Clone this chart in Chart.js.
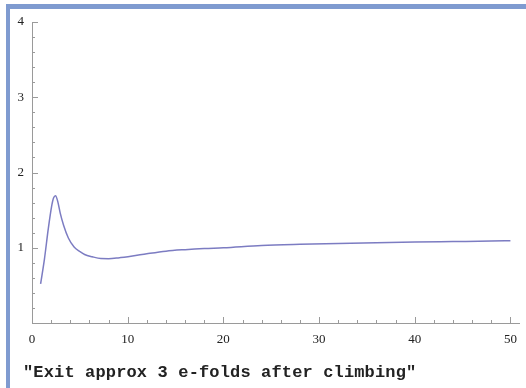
<!DOCTYPE html>
<html>
<head>
<meta charset="utf-8">
<script src="https://cdn.jsdelivr.net/npm/chart.js@4/dist/chart.umd.min.js"></script>
<style>
  html, body { margin: 0; padding: 0; background: #fff; }
  body { width: 526px; height: 388px; position: relative; overflow: hidden; }
  #frame {
    position: absolute; left: 6px; top: 4px; width: 516px; height: 379px;
    border-top: 5px solid #7f9bd0; border-left: 4px solid #7f9bd0;
    border-bottom: 2px solid #b9c5e6;
  }
  #wrap { position: absolute; left: 0; top: 0; width: 526px; height: 388px; }
  #caption {
    position: absolute; left: 23px; top: 363px; line-height: 17px;
    font: bold 17px "Liberation Mono", "Courier New", monospace; color: #222;
    letter-spacing: 0.15px; white-space: pre;
  }
</style>
</head>
<body>
<div id="frame"></div>
<div id="wrap"><canvas id="efoldChart"></canvas></div>
<div id="caption">"Exit approx 3 e-folds after climbing"</div>
<script>
// values
const xValues = [0.9, 1.3, 1.7, 2.05, 2.25, 2.46, 2.7, 2.95, 3.3, 3.8, 4.4, 5.0, 5.5, 6.3, 7.2, 8.0, 9.0, 10.5, 12, 14, 16, 18, 20, 24, 28, 32, 36, 40, 44, 48, 50];
const yValues = [0.52, 0.85, 1.25, 1.55, 1.66, 1.69, 1.61, 1.46, 1.30, 1.13, 1.01, 0.95, 0.91, 0.88, 0.857, 0.855, 0.865, 0.89, 0.92, 0.955, 0.975, 0.99, 1.0, 1.03, 1.045, 1.055, 1.065, 1.075, 1.082, 1.089, 1.093];
const xTickLabels = [0, 10, 20, 30, 40, 50];
const yTickLabels = [1, 2, 3, 4];

// Mathematica-style ticks drawn inside the frame, with 4 minor ticks between majors
const insideTicks = {
    id: 'insideTicks',
    afterDraw(chart) {
        const ctx = chart.ctx;
        const xs = chart.scales.x, ys = chart.scales.y;
        ctx.save();
        ctx.strokeStyle = '#9a9a9a';
        ctx.lineWidth = 1;
        ctx.beginPath();
        for (let v = 0; v <= xs.max + 1e-9; v += 2) {
            const px = Math.round(xs.getPixelForValue(v)) + 0.5;
            const len = (v % 10 === 0) ? 6 : 3;
            ctx.moveTo(px, ys.bottom);
            ctx.lineTo(px, ys.bottom - len);
        }
        for (let i = 0; i <= 20; i++) {
            const v = i * 0.2;
            const py = Math.round(ys.getPixelForValue(v)) + 0.5;
            const len = (i % 5 === 0) ? 6 : 3;
            ctx.moveTo(xs.left, py);
            ctx.lineTo(xs.left + len, py);
        }
        ctx.stroke();
        ctx.restore();
    }
};

new Chart(document.getElementById('efoldChart'), {
    type: 'line',
    data: {
        datasets: [{
            data: xValues.map((x, i) => ({ x: x, y: yValues[i] })),
            borderColor: '#7c7cc2',
            borderWidth: 1.5,
            pointRadius: 0,
            cubicInterpolationMode: 'monotone',
            fill: false
        }]
    },
    options: {
        responsive: true,
        maintainAspectRatio: false,
        animation: false,
        layout: { padding: { top: 22, right: 4, bottom: 0, left: 0 } },
        plugins: { legend: { display: false }, tooltip: { enabled: false } },
        scales: {
            x: {
                type: 'linear', min: 0, max: 51,
                afterBuildTicks: s => { s.ticks = xTickLabels.map(v => ({ value: v })); },
                afterFit: s => { s.height = 65; },
                grid: { drawOnChartArea: false, drawTicks: false },
                border: { color: '#9a9a9a', width: 1 },
                ticks: { padding: 9, color: '#222', maxRotation: 0, font: { family: 'Liberation Serif', size: 13 } }
            },
            y: {
                type: 'linear', min: 0, max: 4,
                afterBuildTicks: s => { s.ticks = yTickLabels.map(v => ({ value: v })); },
                afterFit: s => { s.width = 32; },
                grid: { drawOnChartArea: false, drawTicks: false },
                border: { color: '#9a9a9a', width: 1 },
                ticks: { padding: 8, color: '#222', font: { family: 'Liberation Serif', size: 13 } }
            }
        }
    },
    plugins: [insideTicks]
});
</script>
</body>
</html>
